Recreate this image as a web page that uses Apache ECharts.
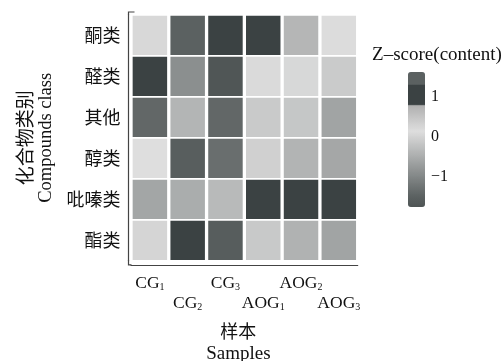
<!DOCTYPE html>
<html>
<head>
<meta charset="utf-8">
<script src="https://cdn.jsdelivr.net/npm/echarts@6/dist/echarts.min.js"></script>
<style>
html,body{margin:0;padding:0;background:#fff;}
#chart{width:504px;height:361px;}
</style>
</head>
<body>
<div id="chart"></div>
<script>
// ---- data ----
const samples = ['CG1', 'CG2', 'CG3', 'AOG1', 'AOG2', 'AOG3'];
const compounds = ['酮类', '醛类', '其他', '醇类', '吡嗪类', '酯类'];
const zKetone   = [-0.07, 1.25, 0.90, 0.95, -0.49, -0.02];
const zAldehyde = [0.85, -0.98, -1.78, -0.05, -0.08, -0.24];
const zOther    = [-1.47, -0.51, -1.47, -0.25, -0.29, -0.72];
const zAlcohol  = [0.00, -1.62, -1.39, -0.17, -0.52, -0.68];
const zPyrazine = [-0.70, -0.61, -0.45, 0.90, 0.92, 0.88];
const zEster    = [-0.11, 0.95, -1.64, -0.26, -0.55, -0.72];
const colorbarTicks = [1, 0, -1];
const colorbarTickLabels = ['1', '0', '\u22121'];

const rows = [zKetone, zAldehyde, zOther, zAlcohol, zPyrazine, zEster];
const cells = [];
rows.forEach(function (r, ri) {
  r.forEach(function (v, ci) { cells.push([ci, ri, v]); });
});

// ---- colour scale (style) ----
const zMin = -1.8, zMax = 1.4;
const stops = [
  [-1.8, '#4f5555'], [-1.55, '#5b6161'], [0, '#dedede'], [0.6, '#b0b0b0'],
  [0.605, '#3b4243'], [1.1, '#3b4243'], [1.105, '#5b6161'], [1.4, '#5b6161']
];
function hex2rgb(h) { return [parseInt(h.substr(1,2),16), parseInt(h.substr(3,2),16), parseInt(h.substr(5,2),16)]; }
function colorAt(v) {
  for (let i = 0; i < stops.length - 1; i++) {
    const a = stops[i], b = stops[i+1];
    if (v <= b[0] + 1e-9) {
      const t = Math.max(0, Math.min(1, (v - a[0]) / (b[0] - a[0])));
      const ca = hex2rgb(a[1]), cb = hex2rgb(b[1]);
      return 'rgb(' + ca.map(function (x, k) { return Math.round(x + (cb[k] - x) * t); }).join(',') + ')';
    }
  }
  return stops[stops.length - 1][1];
}
const ramp = [];
for (let i = 0; i <= 320; i++) ramp.push(colorAt(zMin + (zMax - zMin) * i / 320));

// colour bar geometry (style)
const cbLeft = 408, cbTop = 72, cbW = 17, cbH = 135;
function cbY(v) { return cbTop + (zMax - v) / (zMax - zMin) * cbH; }
const labelShift = [8, 6, 4];

const axisColor = '#444';
const graphics = [{
  type: 'text', x: 437, y: 55,
  style: { text: 'Z\u2013score(content)', fill: '#111', font: '19px "Liberation Serif"', textAlign: 'center', textVerticalAlign: 'middle' }
}, {
  // small cap at the top of the y axis and corner join
  type: 'polyline', shape: { points: [[134.5, 12], [128.5, 12], [128.5, 15]] },
  style: { stroke: axisColor, lineWidth: 1.2, fill: null }
}, {
  type: 'polyline', shape: { points: [[128.5, 260], [128.5, 264.8], [131.5, 264.8]] },
  style: { stroke: axisColor, lineWidth: 1.2, fill: null }
}];
colorbarTicks.forEach(function (t, i) {
  const y = cbY(t);
  graphics.push({ type: 'line', shape: { x1: cbLeft, y1: y, x2: cbLeft + 4, y2: y }, style: { stroke: '#e8e8e8', lineWidth: 1.2 } });
  graphics.push({ type: 'line', shape: { x1: cbLeft + cbW - 4, y1: y, x2: cbLeft + cbW, y2: y }, style: { stroke: '#e8e8e8', lineWidth: 1.2 } });
  graphics.push({ type: 'text', x: 431, y: y + labelShift[i],
    style: { text: colorbarTickLabels[i], fill: '#111', font: '16px "Liberation Serif"', textAlign: 'left', textVerticalAlign: 'middle' } });
});

const chart = echarts.init(document.getElementById('chart'), null, { renderer: 'canvas' });
chart.setOption({
  animation: false,
  backgroundColor: '#fff',
  grid: { left: 131, top: 14.8, width: 226.7, height: 246, containLabel: false, outerBoundsMode: 'none' },
  xAxis: {
    type: 'category', data: samples, offset: 4,
    axisLine: { lineStyle: { color: axisColor, width: 1.2 } },
    axisTick: { inside: true, length: 4, lineStyle: { color: axisColor, width: 1.2 } },
    axisLabel: {
      interval: 0, margin: 8, lineHeight: 20, color: '#111',
      formatter: function (val, idx) {
        const m = val.match(/^([A-Z]+)(\d+)$/);
        const t = '{n|' + m[1] + '}{s|' + m[2] + '}';
        return idx % 2 ? '\n' + t : t;
      },
      rich: {
        n: { fontFamily: 'Liberation Serif', fontSize: 17.5, lineHeight: 20, color: '#111', verticalAlign: 'bottom' },
        s: { fontFamily: 'Liberation Serif', fontSize: 10, lineHeight: 10, color: '#111', verticalAlign: 'bottom' }
      }
    },
    splitLine: { show: false },
    name: '{a|样本}\n{b|Samples}', nameLocation: 'middle', nameGap: 55,
    nameTextStyle: {
      padding: [0, 12, 0, 0],
      rich: {
        a: { fontFamily: 'Noto Sans CJK SC', fontSize: 18, lineHeight: 23, color: '#111' },
        b: { fontFamily: 'Liberation Serif', fontSize: 19, lineHeight: 23, color: '#111' }
      }
    }
  },
  yAxis: {
    type: 'category', data: compounds, inverse: true, offset: 2.5,
    axisLine: { lineStyle: { color: axisColor, width: 1.2 } },
    axisTick: { alignWithLabel: true, length: 5, lineStyle: { color: axisColor, width: 1.2 } },
    axisLabel: { margin: 8, fontFamily: 'Noto Sans CJK SC', fontSize: 18, color: '#111' },
    splitLine: { show: false },
    name: '{a|化合物类别}\n{b|Compounds class}', nameLocation: 'middle', nameRotate: 90, nameGap: 72,
    nameTextStyle: {
      rich: {
        a: { fontFamily: 'Noto Sans CJK SC', fontSize: 19, lineHeight: 21, color: '#111' },
        b: { fontFamily: 'Liberation Serif', fontSize: 18.5, lineHeight: 21, color: '#111' }
      }
    }
  },
  visualMap: {
    type: 'continuous', min: zMin, max: zMax, dimension: 2, seriesIndex: 0,
    left: cbLeft, top: cbTop, itemWidth: cbW, itemHeight: cbH, padding: 0,
    calculable: false, hoverLink: false, text: null, showLabel: false,
    inRange: { color: ramp }
  },
  series: [{
    type: 'custom',
    data: cells,
    encode: { x: 0, y: 1 },
    renderItem: function (params, api) {
      const c = api.coord([api.value(0), api.value(1)]);
      const s = api.size([1, 1]);
      return {
        type: 'rect',
        shape: { x: c[0] - s[0] / 2 + 1.65, y: c[1] - s[1] / 2 + 0.85, width: s[0] - 3.3, height: s[1] - 1.7 },
        style: { fill: api.visual('color') }
      };
    }
  }],
  graphic: graphics
});
</script>
</body>
</html>
